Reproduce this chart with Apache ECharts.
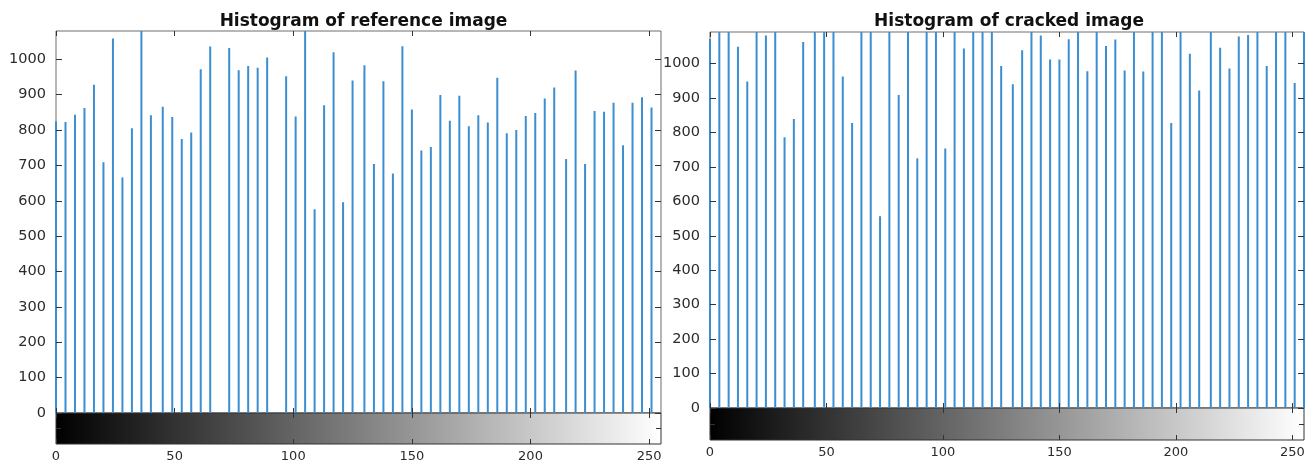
<!DOCTYPE html>
<html>
<head>
<meta charset="utf-8">
<script src="https://cdn.jsdelivr.net/npm/echarts@6/dist/echarts.min.js"></script>
<style>
html,body{margin:0;padding:0;background:#ffffff;}
#chart{width:1315px;height:465px;}
</style>
</head>
<body>
<div id="chart"></div>
<script>
// Gray levels (bins that are populated in the 64-level images)
const grayLevels = [0,4,8,12,16,20,24,28,32,36,40,45,49,53,57,61,65,69,73,77,81,85,89,93,97,101,105,109,113,117,121,125,
  130,134,138,142,146,150,154,158,162,166,170,174,178,182,186,190,194,198,202,206,210,215,219,223,227,231,235,239,243,247,251,255];

// Pixel counts (values above the axis top are estimates; they are clipped)
const referenceCounts = [825,823,843,862,928,709,1059,666,805,1130,842,866,837,775,793,972,1036,0,1032,969,981,976,1005,0,952,838,1110,576,870,1020,596,940,
  983,704,938,677,1037,858,742,752,899,826,897,811,842,821,948,791,800,840,848,889,920,718,968,704,854,852,877,757,877,893,864,0];

// Pixel counts (values above the axis top are estimates; they are clipped)
const crackedCounts = [1072,1180,1160,1049,948,1150,1082,1140,786,839,1063,1170,1120,1190,963,828,1150,1200,557,1130,909,1210,725,1160,1110,754,1140,1044,1180,1130,1150,993,
  940,1039,1170,1082,1012,1012,1071,1150,978,1120,1051,1070,980,1190,977,1140,1130,828,1160,1029,922,1150,1046,986,1079,1083,1170,993,1120,1140,944,1150];

const yTicks = [0,100,200,300,400,500,600,700,800,900,1000];
const xTicks = [0,50,100,150,200,250];
const titles = ['Histogram of reference image', 'Histogram of cracked image'];
const yMax = [1080, 1092];
const xMax = 255;

const FONT = 'DejaVu Sans';
const TXT = '#2b2b2b';
const FRAME = '#6e6e6e';
const CBFRAME = '#333333';
const BAR = '#3b8ed0';
const plain = v => String(v);

const panels = [
  { main: {left: 56, top: 31, width: 605, height: 382}, cbar: {left: 56, top: 413, width: 605, height: 31}, titleX: 358.5, counts: referenceCounts, ymax: yMax[0], title: titles[0] },
  { main: {left: 710, top: 32, width: 594, height: 376}, cbar: {left: 710, top: 408, width: 594, height: 32}, titleX: 1004, counts: crackedCounts, ymax: yMax[1], title: titles[1] }
];

const grid = [], xAxis = [], yAxis = [], series = [], title = [];

panels.forEach((p, pi) => {
  const gMain = grid.length;
  grid.push(Object.assign({show: true, borderColor: FRAME, borderWidth: 1, backgroundColor: '#fff'}, p.main));
  const gCb = grid.length;
  grid.push(Object.assign({show: false}, p.cbar));

  const tickStyle = {lineStyle: {color: '#333', width: 1}};
  // main x bottom
  const xMainBottom = xAxis.length;
  xAxis.push({gridIndex: gMain, type: 'value', min: 0, max: xMax, interval: 50, position: 'bottom', z: 5,
    axisLine: {show: false, onZero: false}, splitLine: {show: false},
    axisTick: Object.assign({show: true, inside: true, length: 5, customValues: xTicks}, tickStyle),
    axisLabel: {show: false}});
  // main x top
  xAxis.push({gridIndex: gMain, type: 'value', min: 0, max: xMax, interval: 50, position: 'top', z: 5,
    axisLine: {show: false, onZero: false}, splitLine: {show: false},
    axisTick: Object.assign({show: true, inside: true, length: 5, customValues: xTicks}, tickStyle),
    axisLabel: {show: false}});
  // main y left
  const yMainLeft = yAxis.length;
  yAxis.push({gridIndex: gMain, type: 'value', min: 0, max: p.ymax, interval: 100, position: 'left', z: 5,
    axisLine: {show: false, onZero: false}, splitLine: {show: false},
    axisTick: Object.assign({show: true, inside: true, length: 6, customValues: yTicks}, tickStyle),
    axisLabel: {show: true, customValues: yTicks, formatter: plain, hideOverlap: false, margin: 10, color: TXT, fontFamily: FONT, fontSize: 14.5}});
  // main y right
  yAxis.push({gridIndex: gMain, type: 'value', min: 0, max: p.ymax, interval: 100, position: 'right', z: 5,
    axisLine: {show: false, onZero: false}, splitLine: {show: false},
    axisTick: Object.assign({show: true, inside: true, length: 6, customValues: yTicks}, tickStyle),
    axisLabel: {show: false}});

  // colorbar axes
  const xCb = xAxis.length;
  xAxis.push({gridIndex: gCb, type: 'value', min: 0, max: xMax, interval: 50, position: 'bottom', z: 5,
    axisLine: {show: false, onZero: false}, splitLine: {show: false},
    axisTick: Object.assign({show: true, inside: true, length: 5, customValues: xTicks}, tickStyle),
    axisLabel: {show: true, customValues: xTicks, formatter: plain, hideOverlap: false, margin: 6, color: TXT, fontFamily: FONT, fontSize: 13}});
  xAxis.push({gridIndex: gCb, type: 'value', min: 0, max: xMax, interval: 50, position: 'top', z: 5,
    axisLine: {show: false, onZero: false}, splitLine: {show: false},
    axisTick: Object.assign({show: true, inside: true, length: 5, customValues: xTicks}, tickStyle),
    axisLabel: {show: false}});
  const yCb = yAxis.length;
  yAxis.push({gridIndex: gCb, type: 'value', min: 0, max: 1, interval: 0.5, position: 'left', z: 5,
    axisLine: {show: false, onZero: false}, splitLine: {show: false},
    axisTick: Object.assign({show: true, inside: true, length: 5, customValues: [0.5]}, tickStyle),
    axisLabel: {show: false}});
  yAxis.push({gridIndex: gCb, type: 'value', min: 0, max: 1, interval: 0.5, position: 'right', z: 5,
    axisLine: {show: false, onZero: false}, splitLine: {show: false},
    axisTick: Object.assign({show: true, inside: true, length: 5, customValues: [0.5]}, tickStyle),
    axisLabel: {show: false}});

  series.push({
    type: 'bar', xAxisIndex: xMainBottom, yAxisIndex: yMainLeft, clip: true,
    barWidth: 2, itemStyle: {color: BAR}, silent: true, animation: false,
    data: grayLevels.map((g, i) => [g, p.counts[i]])
  });

  series.push({
    type: 'custom', xAxisIndex: xCb, yAxisIndex: yCb, silent: true, animation: false, z: 1,
    data: [[0, 1]],
    renderItem: function (params, api) {
      const a = api.coord([0, 1]);
      const b = api.coord([xMax, 0]);
      return {
        type: 'rect',
        shape: {x: a[0], y: a[1], width: b[0] - a[0], height: b[1] - a[1]},
        style: {
          fill: new echarts.graphic.LinearGradient(0, 0, 1, 0, [
            {offset: 0, color: '#000000'}, {offset: 1, color: '#ffffff'}
          ]),
          stroke: CBFRAME, lineWidth: 1
        }
      };
    }
  });

  title.push({
    text: p.title, left: p.titleX, top: 8, textAlign: 'center',
    textStyle: {fontFamily: FONT, fontWeight: 'bold', fontSize: 17, lineHeight: 17, color: '#111'}
  });
});

const chart = echarts.init(document.getElementById('chart'), null, {renderer: 'canvas'});
chart.setOption({
  animation: false,
  backgroundColor: '#ffffff',
  title: title,
  grid: grid,
  xAxis: xAxis,
  yAxis: yAxis,
  series: series
});
</script>
</body>
</html>
